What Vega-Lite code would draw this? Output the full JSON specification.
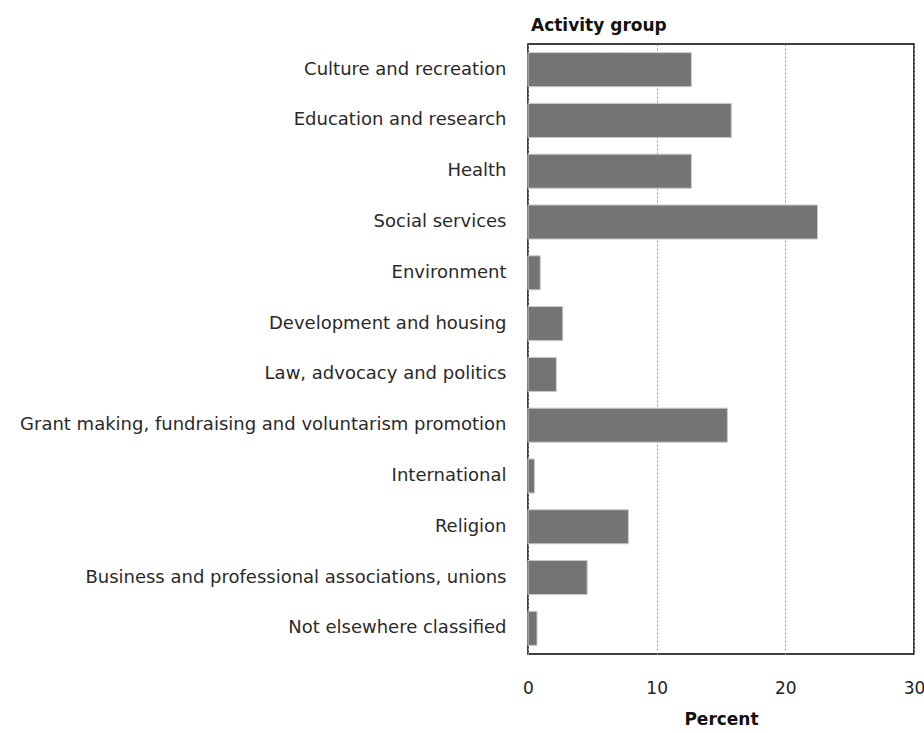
{
  "$schema": "https://vega.github.io/schema/vega-lite/v6.json",
  "autosize": "none",
  "width": 386,
  "height": 610,
  "padding": {"left": 528, "top": 44, "right": 10, "bottom": 79},
  "background": "white",
  "title": {
    "text": "Activity group",
    "anchor": "start",
    "frame": "group",
    "font": "DejaVu Sans",
    "fontSize": 17,
    "fontWeight": "bold",
    "color": "#111",
    "offset": 9,
    "dx": 3
  },
  "data": {
    "values": [
      {"group": "Culture and recreation", "percent": 12.7},
      {"group": "Education and research", "percent": 15.8},
      {"group": "Health", "percent": 12.7},
      {"group": "Social services", "percent": 22.5},
      {"group": "Environment", "percent": 0.95},
      {"group": "Development and housing", "percent": 2.7},
      {"group": "Law, advocacy and politics", "percent": 2.2},
      {"group": "Grant making, fundraising and voluntarism promotion", "percent": 15.5},
      {"group": "International", "percent": 0.5},
      {"group": "Religion", "percent": 7.8},
      {"group": "Business and professional associations, unions", "percent": 4.6},
      {"group": "Not elsewhere classified", "percent": 0.7}
    ]
  },
  "config": {
    "view": {"stroke": "#000", "strokeWidth": 1.5},
    "axis": {"domain": false, "ticks": false}
  },
  "mark": {"type": "bar", "color": "#747474", "stroke": "#c8c8c8", "strokeWidth": 1},
  "encoding": {
    "y": {
      "field": "group",
      "type": "nominal",
      "sort": null,
      "scale": {"paddingInner": 0.33, "paddingOuter": 0.17},
      "axis": {
        "title": null,
        "labelFont": "DejaVu Sans",
        "labelFontSize": 18,
        "labelColor": "#2a2a2a",
        "labelPadding": 22,
        "labelLimit": 600,
        "grid": false
      }
    },
    "x": {
      "field": "percent",
      "type": "quantitative",
      "scale": {"domain": [0, 30], "nice": false},
      "axis": {
        "title": "Percent",
        "titleFont": "DejaVu Sans",
        "titleFontSize": 17,
        "titleFontWeight": "bold",
        "titleColor": "#111",
        "titlePadding": 15,
        "values": [0, 10, 20, 30],
        "labelFont": "DejaVu Sans",
        "labelFontSize": 17,
        "labelColor": "#222",
        "labelPadding": 26,
        "labelFlush": false,
        "grid": true,
        "gridColor": "#999",
        "gridDash": [2, 2],
        "gridWidth": 1
      }
    }
  }
}
